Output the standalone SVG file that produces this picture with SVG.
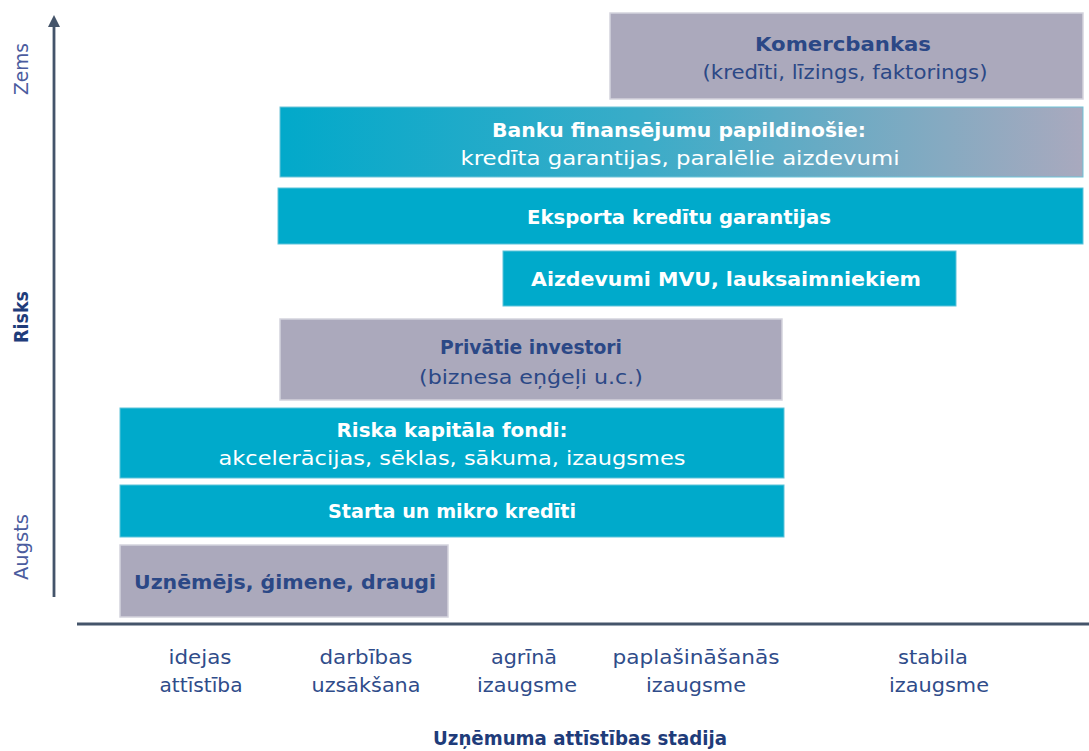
<svg xmlns="http://www.w3.org/2000/svg" width="1089" height="751" viewBox="0 0 1089 751">
<style>
.teal{fill:#00AACB;stroke:#5DC3DA;stroke-width:1}
.gray{fill:#ABA9BC;stroke:#D4D3DD;stroke-width:1.5}
text{font-family:"DejaVu Sans","Liberation Sans",sans-serif;text-anchor:middle}
.b{font-weight:bold;font-size:20px}
.r{font-size:20px}
.w{fill:#FFFFFF}
.d{fill:#2B4886}
.ax{font-size:19px;fill:#2F4C8A}
.axl{stroke:#44546A;stroke-width:2.8;fill:none}
</style>
<defs>
<linearGradient id="gBank" x1="0" y1="0" x2="1" y2="0">
<stop offset="0" stop-color="#02A9CA"/>
<stop offset="0.45" stop-color="#3AACC8"/>
<stop offset="1" stop-color="#A9A9BE"/>
</linearGradient>
</defs>

<g id="axes">
<line class="axl" x1="54" y1="26" x2="54" y2="597"/>
<polygon points="54,15 48,27 60,27" fill="#44546A"/>
<line class="axl" x1="77" y1="624" x2="1089" y2="624"/>
<text class="ax" transform="translate(28,69) rotate(-90)" textLength="52" lengthAdjust="spacingAndGlyphs" style="fill:#4B5C9E">Zems</text>
<text class="ax" transform="translate(28,317) rotate(-90)" textLength="52" lengthAdjust="spacingAndGlyphs" style="font-weight:bold;fill:#1F3C7A">Risks</text>
<text class="ax" transform="translate(28,547) rotate(-90)" textLength="66" lengthAdjust="spacingAndGlyphs" style="fill:#4B5C9E">Augsts</text>
</g>

<g id="n-komercbankas">
<rect class="gray" x="610" y="13" width="473" height="86"/>
<text class="b d" x="843" y="51" textLength="176" lengthAdjust="spacingAndGlyphs">Komercbankas</text>
<text class="r d" x="845" y="79" textLength="285" lengthAdjust="spacingAndGlyphs">(kredīti, līzings, faktorings)</text>
</g>

<g id="n-banku">
<rect x="280" y="107" width="803" height="70" fill="url(#gBank)" stroke="#6FC3D8" stroke-width="1"/>
<text class="b w" x="679" y="137" textLength="374" lengthAdjust="spacingAndGlyphs">Banku finansējumu papildinošie:</text>
<text class="r w" x="680" y="165" textLength="439" lengthAdjust="spacingAndGlyphs">kredīta garantijas, paralēlie aizdevumi</text>
</g>

<g id="n-eksporta">
<rect class="teal" x="278" y="188" width="805" height="56"/>
<text class="b w" x="679" y="224" textLength="304" lengthAdjust="spacingAndGlyphs">Eksporta kredītu garantijas</text>
</g>

<g id="n-aizdevumi">
<rect class="teal" x="503" y="251" width="453" height="55"/>
<text class="b w" x="726" y="286" textLength="390" lengthAdjust="spacingAndGlyphs">Aizdevumi MVU, lauksaimniekiem</text>
</g>

<g id="n-privatie">
<rect class="gray" x="280" y="319" width="502" height="81"/>
<text class="b d" x="531" y="354" textLength="182" lengthAdjust="spacingAndGlyphs">Privātie investori</text>
<text class="r d" x="531" y="384" textLength="224" lengthAdjust="spacingAndGlyphs">(biznesa eņģeļi u.c.)</text>
</g>

<g id="n-riska">
<rect class="teal" x="120" y="408" width="664" height="70"/>
<text class="b w" x="452" y="437" textLength="231" lengthAdjust="spacingAndGlyphs">Riska kapitāla fondi:</text>
<text class="r w" x="452" y="465" textLength="467" lengthAdjust="spacingAndGlyphs">akcelerācijas, sēklas, sākuma, izaugsmes</text>
</g>

<g id="n-starta">
<rect class="teal" x="120" y="485" width="664" height="52"/>
<text class="b w" x="452" y="518" textLength="248" lengthAdjust="spacingAndGlyphs">Starta un mikro kredīti</text>
</g>

<g id="n-uznemejs">
<rect class="gray" x="120" y="545" width="328" height="72"/>
<text class="b d" x="285" y="589" textLength="302" lengthAdjust="spacingAndGlyphs">Uzņēmējs, ģimene, draugi</text>
</g>

<g id="x-labels">
<text class="ax" x="200" y="664" textLength="63" lengthAdjust="spacingAndGlyphs">idejas</text>
<text class="ax" x="201" y="692" textLength="83" lengthAdjust="spacingAndGlyphs">attīstība</text>
<text class="ax" x="366" y="664" textLength="93" lengthAdjust="spacingAndGlyphs">darbības</text>
<text class="ax" x="366" y="692" textLength="109" lengthAdjust="spacingAndGlyphs">uzsākšana</text>
<text class="ax" x="524" y="664" textLength="66" lengthAdjust="spacingAndGlyphs">agrīnā</text>
<text class="ax" x="527" y="692" textLength="100" lengthAdjust="spacingAndGlyphs">izaugsme</text>
<text class="ax" x="696" y="664" textLength="167" lengthAdjust="spacingAndGlyphs">paplašināšanās</text>
<text class="ax" x="696" y="692" textLength="100" lengthAdjust="spacingAndGlyphs">izaugsme</text>
<text class="ax" x="933" y="664" textLength="70" lengthAdjust="spacingAndGlyphs">stabila</text>
<text class="ax" x="939" y="692" textLength="100" lengthAdjust="spacingAndGlyphs">izaugsme</text>
<text class="ax" x="580" y="745" textLength="294" lengthAdjust="spacingAndGlyphs" style="font-weight:bold;fill:#1F3C7A">Uzņēmuma attīstības stadija</text>
</g>
</svg>
